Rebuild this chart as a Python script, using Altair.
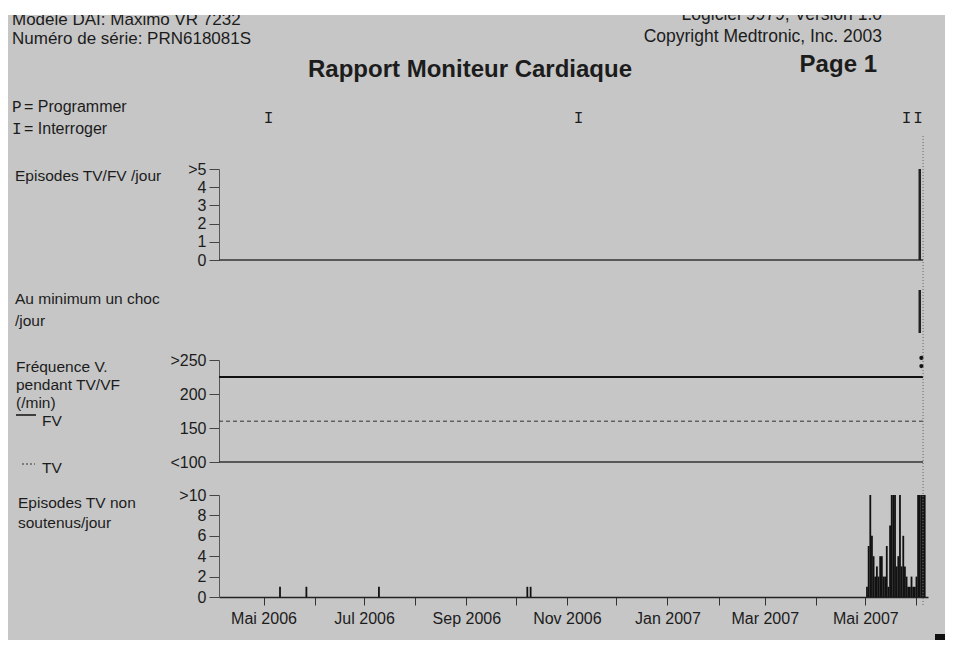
import altair as alt
import pandas as pd

# ---------------- data ----------------
PERIOD = ["2006-04-04", "2007-06-05"]
MONTH_TICKS = [
    (2006, 5), (2006, 6), (2006, 7), (2006, 8), (2006, 9), (2006, 10), (2006, 11),
    (2006, 12), (2007, 1), (2007, 2), (2007, 3), (2007, 4), (2007, 5), (2007, 6),
]
MONTH_NAMES = ["Jan", "Fév", "Mar", "Avr", "Mai", "Jun", "Jul", "Aoû", "Sep", "Oct", "Nov", "Déc"]

INTERROG_DATES = ["2006-05-04", "2006-11-08", "2007-05-26", "2007-06-02"]

EP_ZERO = [0, 0]                      # Episodes TV/FV per day (baseline over period)
EP_DATES = ["2007-06-03"]
EP_VALUES = [6]                       # ">5"

SHOCK_DATES = ["2007-06-03"]
SHOCK_VALUES = [1]

FV_RATE = [225, 225]
TV_RATE = [160, 160]
LOW_RATE = [100, 100]
OVER_DATES = ["2007-06-04", "2007-06-04"]
OVER_VALUES = [253, 241]

NSVT_DATES = [
    "2006-05-11", "2006-05-27", "2006-07-10", "2006-10-08", "2006-10-10",
    "2007-05-02", "2007-05-03", "2007-05-04", "2007-05-05", "2007-05-06",
    "2007-05-07", "2007-05-08", "2007-05-09", "2007-05-10", "2007-05-11",
    "2007-05-12", "2007-05-13", "2007-05-14", "2007-05-15", "2007-05-16",
    "2007-05-17", "2007-05-18", "2007-05-19", "2007-05-20", "2007-05-21",
    "2007-05-22", "2007-05-23", "2007-05-24", "2007-05-25", "2007-05-26",
    "2007-05-27", "2007-05-28", "2007-05-29", "2007-05-30", "2007-05-31",
    "2007-06-01", "2007-06-02", "2007-06-03", "2007-06-04", "2007-06-05",
    "2007-06-06",
]
NSVT_VALUES = [
    1, 1, 1, 1, 1,
    1, 5, 11, 6, 4,
    2, 3, 2, 4, 4,
    2, 2, 5, 1, 7,
    11, 11, 11, 3, 4,
    11, 3, 6, 3, 2,
    1, 1, 2, 1, 1,
    2, 11, 11, 11, 11,
    11,
]
END_DATE = ["2007-06-05"]

# ---------------- texts ----------------
T_MODEL = "Modèle DAI: Maximo VR 7232"
T_SERIAL = "Numéro de série: PRN618081S"
T_SOFT = "Logiciel 9979, Version 1.0"
T_COPY = "Copyright Medtronic, Inc. 2003"
T_TITLE = "Rapport Moniteur Cardiaque"
T_PAGE = "Page 1"

# ---------------- layout helpers ----------------
FONT = "Liberation Sans"
MONO = "Liberation Mono"
INK = "#1c1c1c"
BG = "#c6c6c6"
PLOT_X0, PLOT_Y0 = 219, 8
W, H = 709, 589


def px(X):
    return X - PLOT_X0


def py(Y):
    return Y - PLOT_Y0


XSCALE = alt.Scale(
    type="utc",
    domain=[alt.DateTime(year=2006, month=4, date=4, utc=True),
            alt.DateTime(year=2007, month=6, date=8, utc=True)],
    padding=0,
)
names = "[" + ",".join("'" + m + "'" for m in MONTH_NAMES) + "]"
X_AXIS = alt.Axis(
    orient="bottom",
    values=[alt.DateTime(year=y, month=m, date=1, utc=True) for y, m in MONTH_TICKS],
    labelExpr=f"utcmonth(datum.value) % 2 == 0 ? {names}[utcmonth(datum.value)] + ' ' + utcyear(datum.value) : ''",
    tickSize=8, tickColor="#333", tickWidth=1,
    domainColor="#222", domainWidth=1.5,
    labelFont=FONT, labelFontSize=16, labelColor=INK, labelPadding=5,
    labelFlush=False, labelOverlap=False, grid=False, title=None,
)


def y_axis(values, expr):
    return alt.Axis(
        orient="left", values=values, labelExpr=expr, title=None, grid=False,
        tickSize=10, tickColor="#444", domainColor="#555", domainWidth=1,
        labelFont=FONT, labelFontSize=16, labelColor=INK, labelPadding=3,
    )


def X():
    return alt.X("date:T", scale=XSCALE, axis=X_AXIS)


def text_layer(t, Xp, Yp, size=16, font=FONT, weight="normal", align="left"):
    return alt.Chart(pd.DataFrame({"t": [t]})).mark_text(
        align=align, baseline="alphabetic", font=font, fontSize=size,
        fontWeight=weight, color=INK,
    ).encode(text="t:N", x=alt.value(px(Xp)), y=alt.value(py(Yp)))


# ---------------- panel 1: Episodes TV/FV ----------------
Y1 = alt.Scale(domain=[0, 5], range=[py(260), py(169)], clamp=True, nice=False)
Y1_AX = y_axis([0, 1, 2, 3, 4, 5], "datum.value == 5 ? '>5' : datum.label")
p1_line = alt.Chart(pd.DataFrame({"date": PERIOD, "n": EP_ZERO})).mark_line(
    color="#333", strokeWidth=1.5).encode(x=X(), y=alt.Y("n:Q", scale=Y1, axis=Y1_AX))
p1_bar = alt.Chart(pd.DataFrame({"date": EP_DATES, "n": EP_VALUES})).mark_bar(
    width=2.5, color="#222").encode(x=X(), y=alt.Y("n:Q", scale=Y1, axis=Y1_AX))
panel1 = alt.layer(p1_line, p1_bar)

# ---------------- panel 2: shock ----------------
Y2 = alt.Scale(domain=[0, 1], range=[py(333), py(290)], nice=False)
panel2 = alt.Chart(pd.DataFrame({"date": SHOCK_DATES, "n": SHOCK_VALUES})).mark_bar(
    width=2.5, color="#222").encode(x=X(), y=alt.Y("n:Q", scale=Y2, axis=None))

# ---------------- panel 3: rate ----------------
Y3 = alt.Scale(domain=[100, 250], range=[py(462), py(360)], nice=False)
Y3_AX = y_axis([100, 150, 200, 250],
               "datum.value == 250 ? '>250' : (datum.value == 100 ? '<100' : datum.label)")
rate_df = pd.DataFrame({"date": PERIOD, "fv": FV_RATE, "tv": TV_RATE, "low": LOW_RATE})
p3_fv = alt.Chart(rate_df).mark_line(color="#111", strokeWidth=2).encode(
    x=X(), y=alt.Y("fv:Q", scale=Y3, axis=Y3_AX))
p3_tv = alt.Chart(rate_df).mark_line(color="#333", strokeWidth=1, strokeDash=[4, 3]).encode(
    x=X(), y=alt.Y("tv:Q", scale=Y3, axis=Y3_AX))
p3_low = alt.Chart(rate_df).mark_line(color="#333", strokeWidth=1.5).encode(
    x=X(), y=alt.Y("low:Q", scale=Y3, axis=Y3_AX))
p3_dots = alt.Chart(pd.DataFrame({"date": OVER_DATES, "r": OVER_VALUES})).mark_point(
    filled=True, color="#111", size=18, opacity=1).encode(
    x=X(), y=alt.Y("r:Q", scale=Y3, axis=Y3_AX))
panel3 = alt.layer(p3_fv, p3_tv, p3_low, p3_dots)

# ---------------- panel 4: non-sustained VT ----------------
Y4 = alt.Scale(domain=[0, 10], range=[py(597), py(495)], clamp=True, nice=False)
Y4_AX = y_axis([0, 2, 4, 6, 8, 10], "datum.value == 10 ? '>10' : datum.label")
panel4 = alt.Chart(pd.DataFrame({"date": NSVT_DATES, "n": NSVT_VALUES})).mark_bar(
    width=1.8, color="#111").encode(x=X(), y=alt.Y("n:Q", scale=Y4, axis=Y4_AX))

# ---------------- markers & decorations ----------------
interrog = alt.Chart(pd.DataFrame({"date": INTERROG_DATES})).mark_text(
    font=MONO, fontSize=16, color=INK, baseline="alphabetic", align="center").encode(
    x=X(), y=alt.value(py(123)), text=alt.value("I"))

end_rule = alt.Chart(pd.DataFrame({"date": END_DATE})).mark_rule(
    color="#666", strokeWidth=1, strokeDash=[1, 2]).encode(
    x=X(), y=alt.value(py(136)), y2=alt.value(py(606)))

leg_fv = alt.Chart(pd.DataFrame({"t": ["FV"]})).mark_rule(color="#111", strokeWidth=1.5).encode(
    x=alt.value(px(16)), x2=alt.value(px(36)), y=alt.value(py(415)))
leg_tv = alt.Chart(pd.DataFrame({"t": ["TV"]})).mark_rule(
    color="#333", strokeWidth=1, strokeDash=[2, 2]).encode(
    x=alt.value(px(22)), x2=alt.value(px(35)), y=alt.value(py(464)))

top_strip = alt.Chart(pd.DataFrame({"t": [0]})).mark_rect(color="white").encode(
    x=alt.value(px(8)), x2=alt.value(px(945)), y=alt.value(py(8)), y2=alt.value(py(15)))
corner = alt.Chart(pd.DataFrame({"t": [0]})).mark_rect(color="#111").encode(
    x=alt.value(px(935)), x2=alt.value(px(945)), y=alt.value(py(634)), y2=alt.value(py(640)))

texts = [
    text_layer(T_MODEL, 12, 25, size=17),
    text_layer(T_SERIAL, 12, 44, size=17),
    text_layer(T_SOFT, 882, 20, size=17.5, align="right"),
    text_layer(T_COPY, 882, 42, size=17.5, align="right"),
    text_layer(T_TITLE, 308, 77, size=24, weight="bold"),
    text_layer(T_PAGE, 877, 72, size=24, weight="bold", align="right"),
    text_layer("P", 12, 112, size=16, font=MONO),
    text_layer("= Programmer", 24, 112, size=16),
    text_layer("I", 12, 134, size=16, font=MONO),
    text_layer("= Interroger", 24, 134, size=16),
    text_layer("Episodes TV/FV /jour", 15, 181, size=15.5),
    text_layer("Au minimum un choc", 15, 304, size=15.5),
    text_layer("/jour", 15, 326, size=15.5),
    text_layer("Fréquence V.", 16, 372, size=15.5),
    text_layer("pendant TV/VF", 16, 390, size=15.5),
    text_layer("(/min)", 16, 408, size=15.5),
    text_layer("FV", 42, 426, size=15.5),
    text_layer("TV", 42, 473, size=15.5),
    text_layer("Episodes TV non", 18, 508, size=15.5),
    text_layer("soutenus/jour", 18, 528, size=15.5),
]

chart = alt.layer(
    panel1, panel2, panel3, panel4, interrog, end_rule, leg_fv, leg_tv,
    *texts, top_strip, corner,
).resolve_scale(y="independent").properties(
    width=W, height=H,
    padding={"left": 211, "top": 0, "right": 17, "bottom": 43},
    autosize=alt.AutoSizeParams(type="none"),
    background=BG,
).configure_view(stroke=None)

chart.save("out.html", embed_options={"renderer": "svg", "actions": False})
